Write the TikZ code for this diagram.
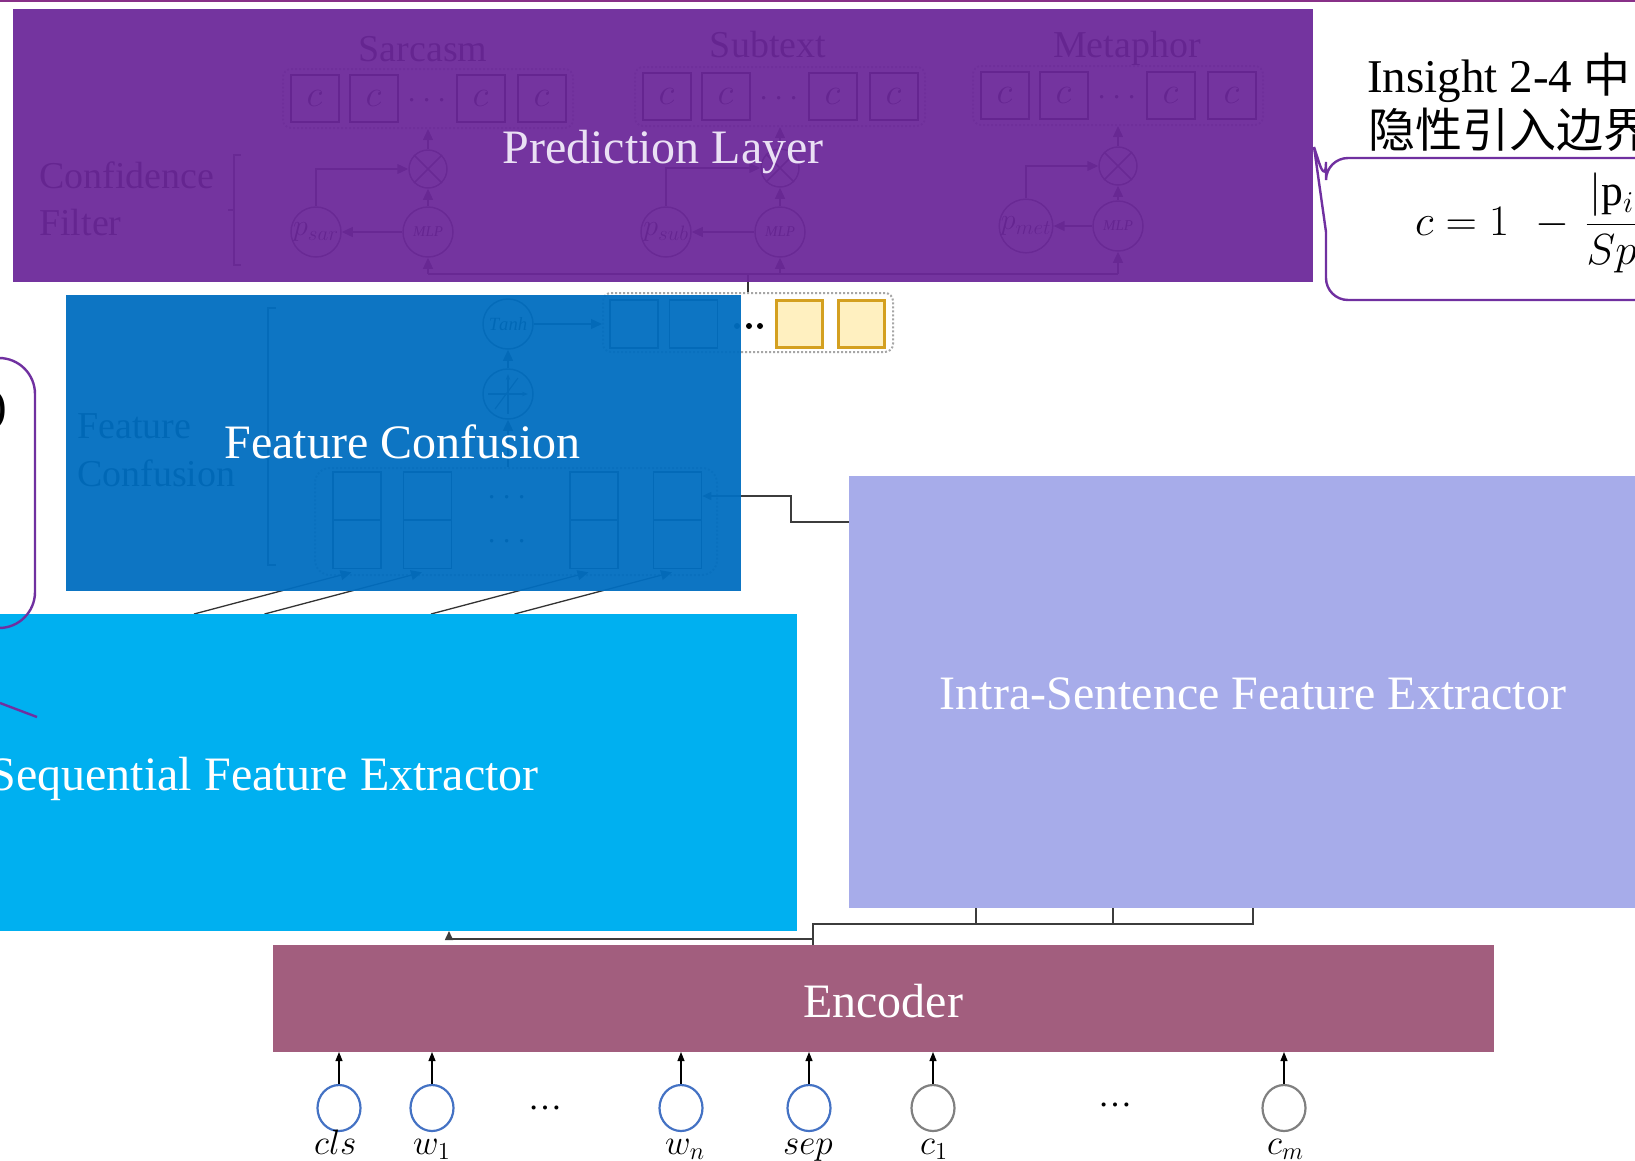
\documentclass[tikz,border=0pt]{standalone}
\usepackage{graphicx}
\usepackage{fontspec}
\setmainfont{Liberation Serif}
\newfontfamily\cjkfont{Noto Sans CJK SC}
\usetikzlibrary{arrows.meta,calc,shapes.geometric}

% math typeset at 20.74pt and scaled to the wanted size
\newcommand\scaledmath[2]{\scalebox{#1}{\fontsize{20.74}{24}\selectfont$#2$}}

\definecolor{predfill}{RGB}{108,40,154}
\definecolor{predtext}{RGB}{234,224,244}
\definecolor{conffill}{RGB}{1,110,192}
\definecolor{seqfill}{RGB}{0,176,240}
\definecolor{intrafill}{RGB}{167,172,234}
\definecolor{encfill}{RGB}{162,94,126}
\definecolor{calloutline}{RGB}{112,48,160}
\definecolor{topline}{RGB}{136,48,136}
\definecolor{goldline}{RGB}{212,160,32}
\definecolor{cream}{RGB}{255,240,192}
\definecolor{tokblue}{RGB}{68,114,196}
\definecolor{tokgray}{RGB}{128,128,128}
\definecolor{wire}{RGB}{60,60,60}
\definecolor{dotgray}{RGB}{166,166,166}

\tikzset{
  panel/.style={rectangle, inner sep=0pt, outer sep=0pt},
  paneltext/.style={text=white, inner sep=0pt, anchor=base, font=\fontsize{48}{52}\selectfont},
  sketchtext/.style={inner sep=0pt, font=\fontsize{38}{42}\selectfont},
  cell/.style={rectangle, draw=black, line width=2pt, minimum width=48pt, minimum height=47pt, inner sep=0pt},
  vcell/.style={rectangle, draw=black!80, line width=1.6pt, minimum width=48pt, minimum height=48pt, inner sep=0pt},
  unit/.style={circle, draw=black!75, line width=1.5pt, minimum size=50pt, inner sep=0pt},
  gate/.style={circle, draw=black!75, line width=1.5pt, minimum size=38pt, inner sep=0pt},
  dotbox/.style={rectangle, draw=dotgray, line width=2pt, dotted, rounded corners=8pt, inner sep=0pt},
  flow/.style={draw=black!80, line width=1.3pt, -{Triangle[length=11pt,width=10pt]}},
  wireline/.style={draw=wire, line width=1.6pt},
  wirearrow/.style={wireline, -{Triangle[length=9pt,width=8pt]}},
  token/.style={ellipse, line width=2.2pt, minimum width=43pt, minimum height=46pt, inner sep=0pt},
  tokarrow/.style={draw=black, line width=1.1pt, -{Triangle[length=9pt,width=7pt]}},
  toklabel/.style={inner sep=0pt, anchor=base west},
  callout/.style={draw=calloutline, line width=2.4pt},
}

\begin{document}
\begin{tikzpicture}[x=1pt,y=-1pt]
\useasboundingbox (0,0) rectangle (1635,1160);
\fill[white] (0,0) rectangle (1635,1160);

% ---------- sketch beneath the prediction panel: confidence filters
\node[sketchtext, anchor=base west] (cf-a) at (39,188) {Confidence};
\node[sketchtext, anchor=base west] (cf-b) at (39,235) {Filter};
\draw[black!75, line width=1.3pt] (241,155) -- (234,155) -- (234,265) -- (241,265) (234,210) -- (228,210);

\foreach \g/\mx/\px/\my/\oy/\by/\tx/\ty/\title in {
  sar/428/316/232/169/75/423/61/Sarcasm,
  sub/780/666/232/168/73/768/57/Subtext,
  met/1118/1026/226/166/72/1127/57/Metaphor}{
  \node[sketchtext, anchor=base] (title-\g) at (\tx,\ty) {\title};
  \node[dotbox, minimum width=290pt, minimum height=59pt] (row-\g) at (\mx,\by+23.5) {};
  \node[cell] (ca-\g) at (\mx-113.5,\by+23.5) {\scaledmath{1.8}{c}};
  \node[cell] (cb-\g) at (\mx-54.5,\by+23.5) {\scaledmath{1.8}{c}};
  \node[cell] (cc-\g) at (\mx+52.5,\by+23.5) {\scaledmath{1.8}{c}};
  \node[cell] (cd-\g) at (\mx+113.5,\by+23.5) {\scaledmath{1.8}{c}};
  \node[inner sep=0pt] (dots-\g) at (\mx-1,\by+26) {\scaledmath{1.6}{\cdots}};
  \node[gate] (x-\g) at (\mx,\oy) {};
  \draw[black!75, line width=1.5pt] (x-\g.north west) -- (x-\g.south east) (x-\g.north east) -- (x-\g.south west);
  \node[unit, font=\itshape\fontsize{15}{16}\selectfont] (mlp-\g) at (\mx,\my) {MLP};
  \node[unit] (p-\g) at (\px,\my) {\scaledmath{1.45}{p_{\g}}};
  \draw[flow] (x-\g.north) -- (x-\g.north |- row-\g.south);
  \draw[flow] (mlp-\g.north) -- (x-\g.south);
  \draw[flow] (mlp-\g.west) -- (p-\g.east);
  \draw[flow] (p-\g.north) |- (x-\g.west);
}

% ---------- sketch beneath the confusion panel
\node[sketchtext, anchor=base west] (fc-a) at (77,438) {Feature};
\node[sketchtext, anchor=base west] (fc-b) at (77,486) {Confusion};
\draw[black!75, line width=1.3pt] (276,308) -- (268,308) -- (268,565) -- (276,565) (268,436) -- (262,436);

\node[dotbox, minimum width=290pt, minimum height=59pt] (tout) at (748,322.5) {};
\node[vcell] (h1) at (634,324) {};
\node[vcell] (h2) at (693.5,324) {};
\node[vcell, draw=goldline, fill=cream, line width=3pt, minimum width=46pt, minimum height=47pt] (y1) at (799.5,324) {};
\node[vcell, draw=goldline, fill=cream, line width=3pt, minimum width=46pt, minimum height=47pt] (y2) at (861.5,324) {};
\fill (737,326) circle (3) (749,326) circle (3) (760,326) circle (3);

\coordinate (fork) at (748,274);
\draw[black!80, line width=1.3pt] (tout.north) -- (fork);
\draw[black!80, line width=1.3pt] (mlp-sar.south |- fork) -- (mlp-met.south |- fork);
\foreach \g in {sar,sub,met}{\draw[flow] (mlp-\g.south |- fork) -- (mlp-\g.south);}

\node[unit] (tanh) at (508,324) {\scaledmath{0.9}{\mathit{Tanh}}};
\node[unit] (mix) at (508,394) {};
\draw[black!75, line width=1.2pt, -{Stealth[length=6pt]}] ($(mix.center)+(-20,0)$) -- ($(mix.center)+(20,0)$);
\draw[black!75, line width=1.2pt, -{Stealth[length=6pt]}] ($(mix.center)+(0,20)$) -- ($(mix.center)+(0,-20)$);
\draw[black!75, line width=1.2pt] ($(mix.center)+(-13,15)$) -- ($(mix.center)+(10,-16)$);

\node[dotbox, rounded corners=15pt, minimum width=402pt, minimum height=107pt] (cols) at (516,521.5) {};
\foreach \i/\cx in {1/357,2/427.5,3/594,4/677.5}{
  \node[vcell] (ct\i) at (\cx,496) {};
  \node[vcell] (cb\i) at (\cx,544.5) {};
  \coordinate (feed\i) at (\cx-163,614);
  \draw[flow] (feed\i) -- ($(cb\i.south)+(-5.5,3)$);
}
\node[inner sep=0pt] (cdots-a) at (507,498) {\scaledmath{1.6}{\cdots}};
\node[inner sep=0pt] (cdots-b) at (507,542) {\scaledmath{1.6}{\cdots}};

\draw[flow] (mix.south |- cols.north) -- (mix.south);
\draw[flow] (mix.north) -- (tanh.south);
\draw[flow] (tanh.east) -- (tanh.east -| tout.west);

\coordinate (intra-port) at (849,522);
\draw[wirearrow] (intra-port) -- ++(-58,0) |- (ct4.east);

% ---------- panels
\node[panel, fill=predfill, fill opacity=.94, minimum width=1300.5pt, minimum height=272.5pt] (pred) at (662.75,145.25) {};
\node[panel, fill=conffill, fill opacity=.95, minimum width=675.3pt, minimum height=295.5pt] (conf) at (403.35,442.75) {};
\node[panel, fill=seqfill, minimum width=797pt, minimum height=317pt] (seq) at (398.5,772.5) {};
\node[panel, fill=intrafill, minimum width=786pt, minimum height=432pt] (intra) at (1242,692) {};
\node[panel, fill=encfill, minimum width=1221pt, minimum height=107pt] (enc) at (883.5,998.5) {};

\node[paneltext, text=predtext] (pred-label) at (663,163) {Prediction Layer};
\node[paneltext] (conf-label) at (402.5,458) {Feature Confusion};
\node[paneltext, anchor=base east] (seq-label) at (539,790) {Sequential Feature Extractor};
\node[paneltext] (intra-label) at (1253,709) {Intra-Sentence Feature Extractor};
\node[paneltext] (enc-label) at (883,1017) {Encoder};

% ---------- encoder outputs
\path (enc.north) ++(-70.5,0) coordinate (tap);
\path (intra.south) ++(-266,0) coordinate (ib1) ++(137,0) coordinate (ib2) ++(140,0) coordinate (ib3);
\path (seq.south) ++(50.5,0) coordinate (seqin);
\draw[wireline] (tap) |- ($(ib3)+(0,16)$) -- (ib3);
\draw[wireline] (ib1) -- ++(0,16);
\draw[wireline] (ib2) -- ++(0,16);
\draw[wirearrow] ($(tap)+(0,-6)$) -| (seqin);

% ---------- input tokens
\foreach \n/\x/\c/\lx/\lbl in {cls/339/tokblue/314/cls, w1/432/tokblue/413/w_1, wn/681/tokblue/665/w_n,
  sep/809/tokblue/783/sep, c1/933/tokgray/920/c_1, cm/1284/tokgray/1267/c_m}{
  \node[token, draw=\c] (tok-\n) at (\x,1108) {};
  \draw[tokarrow] (tok-\n.north) -- (tok-\n.north |- enc.south);
  \node[toklabel] (lab-\n) at (\lx,1154) {\scaledmath{1.7}{\lbl}};
}
\node[inner sep=0pt, font=\fontsize{34}{36}\selectfont] (gap-a) at (545,1108) {\ldots};
\node[inner sep=0pt, font=\fontsize{34}{36}\selectfont] (gap-b) at (1115,1105) {\ldots};

% ---------- callouts
\draw[topline, line width=1.6pt] (0,0.8) -- (1635,0.8);
\draw[callout, rounded corners=22pt] (1680,158) -- (1326,158) -- (1326,184) [sharp corners] -- (1314,147) -- (1326,232) [rounded corners=22pt] -- (1326,300) -- (1680,300);
\node[anchor=base west, inner sep=0pt, font=\fontsize{47}{50}\selectfont] (insight-a) at (1367,92) {Insight 2-4 {\cjkfont 中}};
\node[anchor=base west, inner sep=0pt, font=\fontsize{47}{50}\selectfont] (insight-b) at (1368,147) {\cjkfont 隐性引入边界};
\node[anchor=base west, inner sep=0pt] (conf-formula) at (1415,235) {\scaledmath{2.1}{c = 1 \mkern7mu - \mkern2mu \displaystyle\frac{|\mathrm{p}_i}{Sp}}};

\draw[callout, rounded corners=36pt] (-60,358) -- (35,358) -- (35,628) -- (-60,628);
\draw[callout] (0,703) -- (37,717);
\node[anchor=base east, inner sep=0pt, font=\fontsize{47}{50}\selectfont] (paren) at (7,421) {)};
\end{tikzpicture}
\end{document}
